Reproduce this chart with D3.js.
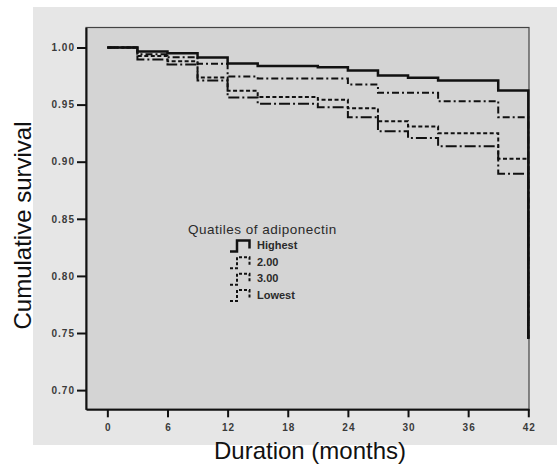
<!DOCTYPE html>
<html>
<head>
<meta charset="utf-8">
<script src="https://cdn.jsdelivr.net/npm/d3@7"></script>
<style>
  html, body { margin: 0; padding: 0; background: #fff; }
  svg { display: block; font-family: "Liberation Sans", Arial, sans-serif; }
</style>
</head>
<body>
<svg id="chart" width="557" height="467"></svg>
<script>
// ---- data ----
const times = [0, 3, 6, 9, 12, 15, 21, 24, 27, 30, 33, 39, 42];
const highest = [1.000, 0.9965, 0.995, 0.9912, 0.986, 0.9838, 0.9828, 0.9799, 0.9755, 0.9735, 0.9711, 0.9623, 0.745];
const q2      = [1.000, 0.994, 0.9915, 0.9857, 0.9746, 0.9728, 0.9728, 0.9676, 0.9603, 0.9603, 0.953, 0.939, 0.745];
const q3      = [1.000, 0.9925, 0.988, 0.9737, 0.9621, 0.9567, 0.9542, 0.9468, 0.9355, 0.9308, 0.925, 0.9025, 0.745];
const lowest  = [1.000, 0.9895, 0.985, 0.971, 0.9562, 0.9507, 0.9477, 0.939, 0.9267, 0.9208, 0.9136, 0.8894, 0.745];
const seriesNames = ["Highest", "2.00", "3.00", "Lowest"];
const xTicks = [0, 6, 12, 18, 24, 30, 36, 42];
const yTicks = [0.70, 0.75, 0.80, 0.85, 0.90, 0.95, 1.00];
const legendTitle = "Quatiles of adiponectin";
const xTitle = "Duration (months)";
const yTitle = "Cumulative survival";

// ---- styles ----
const styles = [
  { dash: null, width: 2.5 },
  { dash: "7,3,2,3", width: 2 },
  { dash: "4,2.5", width: 2 },
  { dash: "11,3,2,3", width: 2 }
];
const seriesData = [highest, q2, q3, lowest];

const svg = d3.select("#chart");

// outer panel
svg.append("rect").attr("x", 33).attr("y", 7).attr("width", 524).attr("height", 438).attr("fill", "#e6e6e6");

const L = 86, R = 529, T = 27.5, B = 409.3;
const x = d3.scaleLinear().domain([-2.13, 42.07]).range([L, R]);
const y = d3.scaleLinear().domain([0.6832, 1.0175]).range([B, T]);

// plot area
svg.append("rect").attr("x", L).attr("y", T).attr("width", R - L).attr("height", B - T)
  .attr("fill", "#d4d4d4").attr("stroke", "#444").attr("stroke-width", 1.2);

// curves
const line = d3.line().x(d => x(d[0])).y(d => y(d[1])).curve(d3.curveStepAfter);
const g = svg.append("g");
seriesData.forEach((vals, i) => {
  const pts = times.map((t, j) => [t, vals[j]]);
  g.append("path").datum(pts).attr("d", line)
    .attr("fill", "none").attr("stroke", "#111")
    .attr("stroke-width", styles[i].width)
    .attr("stroke-dasharray", styles[i].dash)
    .attr("stroke-linejoin", "miter");
});

// axes
const yAxis = svg.append("g").attr("transform", `translate(${L},0)`)
  .call(d3.axisLeft(y).tickValues(yTicks).tickFormat(d3.format(".2f")).tickSize(9).tickSizeOuter(0));
const xAxis = svg.append("g").attr("transform", `translate(0,${B})`)
  .call(d3.axisBottom(x).tickValues(xTicks).tickFormat(d3.format("d")).tickSize(8).tickSizeOuter(0));
[yAxis, xAxis].forEach(a => {
  a.select(".domain").attr("stroke", "#111").attr("stroke-width", 2);
  a.selectAll(".tick line").attr("stroke", "#111").attr("stroke-width", 2);
  a.selectAll(".tick text").attr("fill", "#3a3a3a").attr("font-size", 10)
    .attr("font-weight", "bold").attr("letter-spacing", 1)
    .attr("font-family", "Liberation Sans, Arial, sans-serif");
});
yAxis.selectAll(".tick text").attr("x", -11);
xAxis.selectAll(".tick text").attr("y", 15).attr("dx", 0.5);

// titles
svg.append("text").attr("x", 310).attr("y", 459).attr("text-anchor", "middle")
  .attr("font-size", 24).attr("fill", "#111").text(xTitle);
svg.append("text").attr("transform", "translate(31,225.5) rotate(-90)").attr("text-anchor", "middle")
  .attr("font-size", 24).attr("fill", "#111").text(yTitle);

// legend
svg.append("text").attr("x", 188).attr("y", 233.5).attr("font-size", 13.5)
  .attr("letter-spacing", 0.5).attr("fill", "#2a2a2a").text(legendTitle);
const legY = [245, 261.7, 278.3, 294.5];
seriesNames.forEach((name, i) => {
  const cy = legY[i];
  svg.append("path")
    .attr("d", `M230,${cy + 6.5}H237V${cy - 4.5}H249.5V${cy + 3.5}`)
    .attr("fill", "none").attr("stroke", "#111")
    .attr("stroke-width", styles[i].width)
    .attr("stroke-dasharray", styles[i].dash ? "3,2" : null);
  svg.append("text").attr("x", 257).attr("y", cy + 4).attr("font-size", 11)
    .attr("font-weight", "bold").attr("fill", "#2a2a2a").text(name);
});
</script>
</body>
</html>
